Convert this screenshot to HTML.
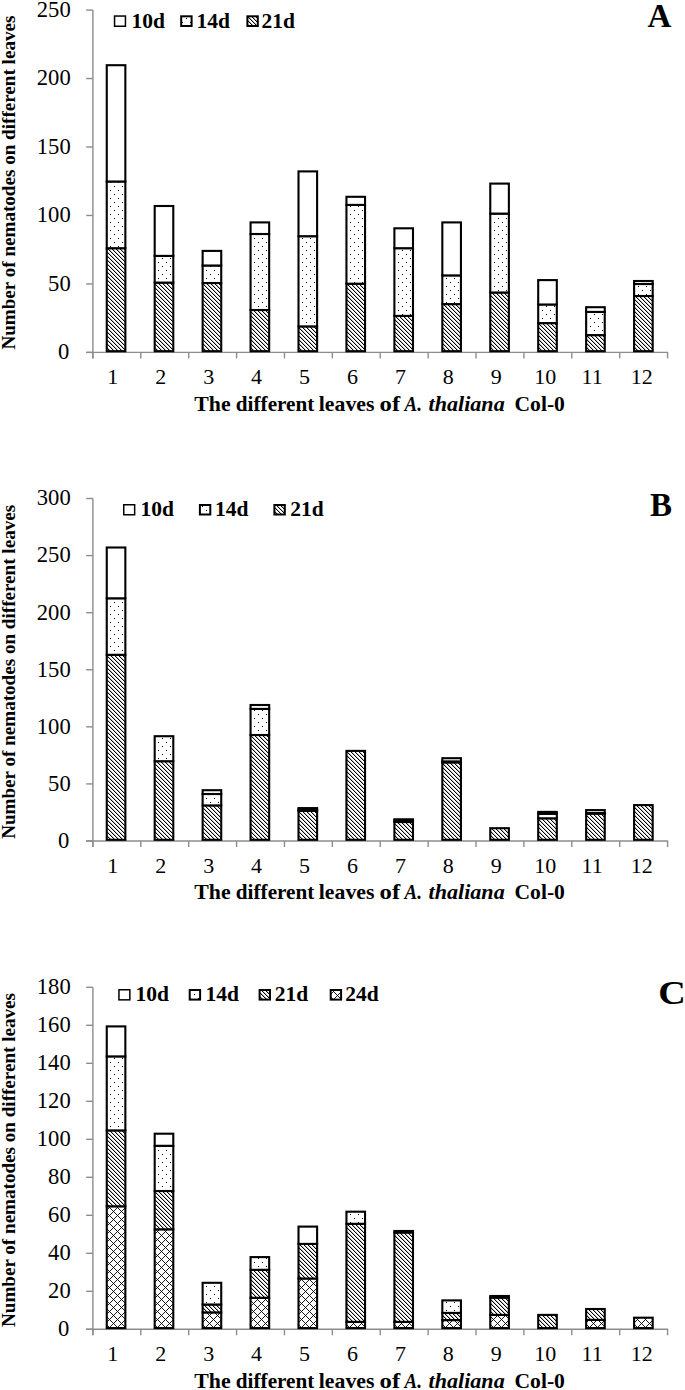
<!DOCTYPE html>
<html><head><meta charset="utf-8"><title>Nematodes on leaves</title>
<style>
html,body{margin:0;padding:0;background:#fff;}
body{width:685px;height:1390px;overflow:hidden;}
svg{display:block;}
text{font-family:"Liberation Serif",serif;fill:#000;}
.tk{font-size:22px;}
.yt{font-size:22.6px;}
.lg{font-size:21.5px;font-weight:bold;}
.ttl{font-size:21px;font-weight:bold;}
.it{font-style:italic;}
.yl{font-size:19px;font-weight:bold;}
.pl{font-size:33px;font-weight:bold;}
</style></head><body>
<svg width="685" height="1390" viewBox="0 0 685 1390">
<defs>
<pattern id="hatch" patternUnits="userSpaceOnUse" width="4" height="4">
<rect x="0" y="0" width="4" height="4" fill="#fff"/>
<rect x="3" y="0" width="1" height="1" fill="#000"/><rect x="0" y="0" width="1" height="1" fill="#c0c0c0"/><rect x="0" y="1" width="1" height="1" fill="#000"/><rect x="1" y="1" width="1" height="1" fill="#c0c0c0"/><rect x="1" y="2" width="1" height="1" fill="#000"/><rect x="2" y="2" width="1" height="1" fill="#c0c0c0"/><rect x="2" y="3" width="1" height="1" fill="#000"/><rect x="3" y="3" width="1" height="1" fill="#c0c0c0"/>
</pattern>
<pattern id="dots" patternUnits="userSpaceOnUse" width="8" height="8">
<rect x="0" y="0" width="8" height="8" fill="#fff"/>
<rect x="2" y="2" width="1" height="1" fill="#000"/>
<rect x="6" y="6" width="1" height="1" fill="#000"/>
</pattern>
<pattern id="cross" patternUnits="userSpaceOnUse" width="8" height="8">
<rect x="0" y="0" width="8" height="8" fill="#fff"/>
<path d="M-2 0L8 10M4 -2L10 4M-1 6L6 -1M3 10L10 3" stroke="#000" stroke-width="0.9"/>
</pattern>
</defs>
<line x1="92.9" y1="10.1" x2="92.9" y2="358.4" stroke="#8c8c8c" stroke-width="1.4"/>
<line x1="86.2" y1="352.4" x2="668.08" y2="352.4" stroke="#8c8c8c" stroke-width="1.4"/>
<line x1="86.2" y1="352.40" x2="92.9" y2="352.40" stroke="#8c8c8c" stroke-width="1.4"/>
<text x="69.2" y="359.30" class="tk yt" text-anchor="end">0</text>
<line x1="86.2" y1="283.94" x2="92.9" y2="283.94" stroke="#8c8c8c" stroke-width="1.4"/>
<text x="70.7" y="290.84" class="tk yt" text-anchor="end">50</text>
<line x1="86.2" y1="215.48" x2="92.9" y2="215.48" stroke="#8c8c8c" stroke-width="1.4"/>
<text x="70.7" y="222.38" class="tk yt" text-anchor="end">100</text>
<line x1="86.2" y1="147.02" x2="92.9" y2="147.02" stroke="#8c8c8c" stroke-width="1.4"/>
<text x="70.7" y="153.92" class="tk yt" text-anchor="end">150</text>
<line x1="86.2" y1="78.56" x2="92.9" y2="78.56" stroke="#8c8c8c" stroke-width="1.4"/>
<text x="70.7" y="85.46" class="tk yt" text-anchor="end">200</text>
<line x1="86.2" y1="10.10" x2="92.9" y2="10.10" stroke="#8c8c8c" stroke-width="1.4"/>
<text x="70.7" y="17.00" class="tk yt" text-anchor="end">250</text>
<line x1="92.90" y1="352.4" x2="92.90" y2="358.4" stroke="#8c8c8c" stroke-width="1.4"/>
<line x1="140.79" y1="352.4" x2="140.79" y2="358.4" stroke="#8c8c8c" stroke-width="1.4"/>
<line x1="188.68" y1="352.4" x2="188.68" y2="358.4" stroke="#8c8c8c" stroke-width="1.4"/>
<line x1="236.57" y1="352.4" x2="236.57" y2="358.4" stroke="#8c8c8c" stroke-width="1.4"/>
<line x1="284.46" y1="352.4" x2="284.46" y2="358.4" stroke="#8c8c8c" stroke-width="1.4"/>
<line x1="332.35" y1="352.4" x2="332.35" y2="358.4" stroke="#8c8c8c" stroke-width="1.4"/>
<line x1="380.24" y1="352.4" x2="380.24" y2="358.4" stroke="#8c8c8c" stroke-width="1.4"/>
<line x1="428.13" y1="352.4" x2="428.13" y2="358.4" stroke="#8c8c8c" stroke-width="1.4"/>
<line x1="476.02" y1="352.4" x2="476.02" y2="358.4" stroke="#8c8c8c" stroke-width="1.4"/>
<line x1="523.91" y1="352.4" x2="523.91" y2="358.4" stroke="#8c8c8c" stroke-width="1.4"/>
<line x1="571.80" y1="352.4" x2="571.80" y2="358.4" stroke="#8c8c8c" stroke-width="1.4"/>
<line x1="619.69" y1="352.4" x2="619.69" y2="358.4" stroke="#8c8c8c" stroke-width="1.4"/>
<line x1="667.58" y1="352.4" x2="667.58" y2="358.4" stroke="#8c8c8c" stroke-width="1.4"/>
<text x="112.75" y="384.10" class="tk" text-anchor="middle">1</text>
<text x="160.69" y="384.10" class="tk" text-anchor="middle">2</text>
<text x="208.63" y="384.10" class="tk" text-anchor="middle">3</text>
<text x="256.57" y="384.10" class="tk" text-anchor="middle">4</text>
<text x="304.51" y="384.10" class="tk" text-anchor="middle">5</text>
<text x="352.45" y="384.10" class="tk" text-anchor="middle">6</text>
<text x="400.39" y="384.10" class="tk" text-anchor="middle">7</text>
<text x="448.33" y="384.10" class="tk" text-anchor="middle">8</text>
<text x="496.27" y="384.10" class="tk" text-anchor="middle">9</text>
<text x="545.21" y="384.10" class="tk" text-anchor="middle">10</text>
<text x="592.15" y="384.10" class="tk" text-anchor="middle">11</text>
<text x="641.69" y="384.10" class="tk" text-anchor="middle">12</text>
<rect x="106.75" y="248.20" width="18.60" height="103.00" fill="url(#hatch)" stroke="#000" stroke-width="2.1"/>
<rect x="106.75" y="181.50" width="18.60" height="66.70" fill="url(#dots)" stroke="#000" stroke-width="2.1"/>
<rect x="106.75" y="65.20" width="18.60" height="116.30" fill="#fff" stroke="#000" stroke-width="2.1"/>
<rect x="154.69" y="282.60" width="18.60" height="68.60" fill="url(#hatch)" stroke="#000" stroke-width="2.1"/>
<rect x="154.69" y="255.90" width="18.60" height="26.70" fill="url(#dots)" stroke="#000" stroke-width="2.1"/>
<rect x="154.69" y="206.00" width="18.60" height="49.90" fill="#fff" stroke="#000" stroke-width="2.1"/>
<rect x="202.63" y="283.00" width="18.60" height="68.20" fill="url(#hatch)" stroke="#000" stroke-width="2.1"/>
<rect x="202.63" y="265.50" width="18.60" height="17.50" fill="url(#dots)" stroke="#000" stroke-width="2.1"/>
<rect x="202.63" y="250.90" width="18.60" height="14.60" fill="#fff" stroke="#000" stroke-width="2.1"/>
<rect x="250.57" y="310.00" width="18.60" height="41.20" fill="url(#hatch)" stroke="#000" stroke-width="2.1"/>
<rect x="250.57" y="234.00" width="18.60" height="76.00" fill="url(#dots)" stroke="#000" stroke-width="2.1"/>
<rect x="250.57" y="222.40" width="18.60" height="11.60" fill="#fff" stroke="#000" stroke-width="2.1"/>
<rect x="298.51" y="326.40" width="18.60" height="24.80" fill="url(#hatch)" stroke="#000" stroke-width="2.1"/>
<rect x="298.51" y="236.20" width="18.60" height="90.20" fill="url(#dots)" stroke="#000" stroke-width="2.1"/>
<rect x="298.51" y="171.40" width="18.60" height="64.80" fill="#fff" stroke="#000" stroke-width="2.1"/>
<rect x="346.45" y="283.70" width="18.60" height="67.50" fill="url(#hatch)" stroke="#000" stroke-width="2.1"/>
<rect x="346.45" y="204.90" width="18.60" height="78.80" fill="url(#dots)" stroke="#000" stroke-width="2.1"/>
<rect x="346.45" y="196.80" width="18.60" height="8.10" fill="#fff" stroke="#000" stroke-width="2.1"/>
<rect x="394.39" y="315.90" width="18.60" height="35.30" fill="url(#hatch)" stroke="#000" stroke-width="2.1"/>
<rect x="394.39" y="248.20" width="18.60" height="67.70" fill="url(#dots)" stroke="#000" stroke-width="2.1"/>
<rect x="394.39" y="228.30" width="18.60" height="19.90" fill="#fff" stroke="#000" stroke-width="2.1"/>
<rect x="442.33" y="304.10" width="18.60" height="47.10" fill="url(#hatch)" stroke="#000" stroke-width="2.1"/>
<rect x="442.33" y="275.40" width="18.60" height="28.70" fill="url(#dots)" stroke="#000" stroke-width="2.1"/>
<rect x="442.33" y="222.40" width="18.60" height="53.00" fill="#fff" stroke="#000" stroke-width="2.1"/>
<rect x="490.27" y="292.50" width="18.60" height="58.70" fill="url(#hatch)" stroke="#000" stroke-width="2.1"/>
<rect x="490.27" y="213.60" width="18.60" height="78.90" fill="url(#dots)" stroke="#000" stroke-width="2.1"/>
<rect x="490.27" y="183.60" width="18.60" height="30.00" fill="#fff" stroke="#000" stroke-width="2.1"/>
<rect x="538.21" y="323.10" width="18.60" height="28.10" fill="url(#hatch)" stroke="#000" stroke-width="2.1"/>
<rect x="538.21" y="304.50" width="18.60" height="18.60" fill="url(#dots)" stroke="#000" stroke-width="2.1"/>
<rect x="538.21" y="280.10" width="18.60" height="24.40" fill="#fff" stroke="#000" stroke-width="2.1"/>
<rect x="586.15" y="335.10" width="18.60" height="16.10" fill="url(#hatch)" stroke="#000" stroke-width="2.1"/>
<rect x="586.15" y="311.90" width="18.60" height="23.20" fill="url(#dots)" stroke="#000" stroke-width="2.1"/>
<rect x="586.15" y="307.20" width="18.60" height="4.70" fill="#fff" stroke="#000" stroke-width="2.1"/>
<rect x="634.09" y="296.00" width="18.60" height="55.20" fill="url(#hatch)" stroke="#000" stroke-width="2.1"/>
<rect x="634.09" y="284.00" width="18.60" height="12.00" fill="url(#dots)" stroke="#000" stroke-width="2.1"/>
<rect x="634.09" y="281.00" width="18.60" height="3.00" fill="#fff" stroke="#000" stroke-width="2.1"/>
<text y="410.50" class="ttl"><tspan x="194.2" textLength="36.4" lengthAdjust="spacingAndGlyphs">The</tspan><tspan x="235.8" textLength="78.6" lengthAdjust="spacingAndGlyphs">different</tspan><tspan x="318.8" textLength="55.6" lengthAdjust="spacingAndGlyphs">leaves</tspan><tspan x="379.6" textLength="20.6" lengthAdjust="spacingAndGlyphs">of</tspan><tspan x="404.6" class="it" textLength="17.4" lengthAdjust="spacingAndGlyphs">A.</tspan><tspan x="428.5" class="it" textLength="76.2" lengthAdjust="spacingAndGlyphs">thaliana</tspan><tspan x="514.5" textLength="50.4" lengthAdjust="spacingAndGlyphs">Col-0</tspan></text>
<text transform="translate(14.8 182.60) rotate(-90)" class="yl" text-anchor="middle" textLength="334" lengthAdjust="spacingAndGlyphs">Number of nematodes on different leaves</text>
<rect x="114.55" y="16.05" width="10.90" height="10.20" fill="#fff" stroke="#000" stroke-width="1.5"/>
<text x="131.50" y="27.60" class="lg">10d</text>
<rect x="181.20" y="16.30" width="10.40" height="9.70" fill="url(#dots)" stroke="#000" stroke-width="2.0"/>
<text x="196.50" y="27.60" class="lg">14d</text>
<rect x="247.40" y="16.30" width="10.40" height="9.70" fill="url(#hatch)" stroke="#000" stroke-width="2.0"/>
<text x="261.50" y="27.60" class="lg">21d</text>
<text x="647.5" y="26.6" class="pl">A</text>
<line x1="92.9" y1="498.5" x2="92.9" y2="847.0" stroke="#8c8c8c" stroke-width="1.4"/>
<line x1="86.2" y1="841.0" x2="668.08" y2="841.0" stroke="#8c8c8c" stroke-width="1.4"/>
<line x1="86.2" y1="841.00" x2="92.9" y2="841.00" stroke="#8c8c8c" stroke-width="1.4"/>
<text x="69.2" y="847.90" class="tk yt" text-anchor="end">0</text>
<line x1="86.2" y1="783.92" x2="92.9" y2="783.92" stroke="#8c8c8c" stroke-width="1.4"/>
<text x="70.7" y="790.82" class="tk yt" text-anchor="end">50</text>
<line x1="86.2" y1="726.83" x2="92.9" y2="726.83" stroke="#8c8c8c" stroke-width="1.4"/>
<text x="70.7" y="733.73" class="tk yt" text-anchor="end">100</text>
<line x1="86.2" y1="669.75" x2="92.9" y2="669.75" stroke="#8c8c8c" stroke-width="1.4"/>
<text x="70.7" y="676.65" class="tk yt" text-anchor="end">150</text>
<line x1="86.2" y1="612.67" x2="92.9" y2="612.67" stroke="#8c8c8c" stroke-width="1.4"/>
<text x="70.7" y="619.57" class="tk yt" text-anchor="end">200</text>
<line x1="86.2" y1="555.58" x2="92.9" y2="555.58" stroke="#8c8c8c" stroke-width="1.4"/>
<text x="70.7" y="562.48" class="tk yt" text-anchor="end">250</text>
<line x1="86.2" y1="498.50" x2="92.9" y2="498.50" stroke="#8c8c8c" stroke-width="1.4"/>
<text x="70.7" y="505.40" class="tk yt" text-anchor="end">300</text>
<line x1="92.90" y1="841.0" x2="92.90" y2="847.0" stroke="#8c8c8c" stroke-width="1.4"/>
<line x1="140.79" y1="841.0" x2="140.79" y2="847.0" stroke="#8c8c8c" stroke-width="1.4"/>
<line x1="188.68" y1="841.0" x2="188.68" y2="847.0" stroke="#8c8c8c" stroke-width="1.4"/>
<line x1="236.57" y1="841.0" x2="236.57" y2="847.0" stroke="#8c8c8c" stroke-width="1.4"/>
<line x1="284.46" y1="841.0" x2="284.46" y2="847.0" stroke="#8c8c8c" stroke-width="1.4"/>
<line x1="332.35" y1="841.0" x2="332.35" y2="847.0" stroke="#8c8c8c" stroke-width="1.4"/>
<line x1="380.24" y1="841.0" x2="380.24" y2="847.0" stroke="#8c8c8c" stroke-width="1.4"/>
<line x1="428.13" y1="841.0" x2="428.13" y2="847.0" stroke="#8c8c8c" stroke-width="1.4"/>
<line x1="476.02" y1="841.0" x2="476.02" y2="847.0" stroke="#8c8c8c" stroke-width="1.4"/>
<line x1="523.91" y1="841.0" x2="523.91" y2="847.0" stroke="#8c8c8c" stroke-width="1.4"/>
<line x1="571.80" y1="841.0" x2="571.80" y2="847.0" stroke="#8c8c8c" stroke-width="1.4"/>
<line x1="619.69" y1="841.0" x2="619.69" y2="847.0" stroke="#8c8c8c" stroke-width="1.4"/>
<line x1="667.58" y1="841.0" x2="667.58" y2="847.0" stroke="#8c8c8c" stroke-width="1.4"/>
<text x="112.75" y="872.70" class="tk" text-anchor="middle">1</text>
<text x="160.69" y="872.70" class="tk" text-anchor="middle">2</text>
<text x="208.63" y="872.70" class="tk" text-anchor="middle">3</text>
<text x="256.57" y="872.70" class="tk" text-anchor="middle">4</text>
<text x="304.51" y="872.70" class="tk" text-anchor="middle">5</text>
<text x="352.45" y="872.70" class="tk" text-anchor="middle">6</text>
<text x="400.39" y="872.70" class="tk" text-anchor="middle">7</text>
<text x="448.33" y="872.70" class="tk" text-anchor="middle">8</text>
<text x="496.27" y="872.70" class="tk" text-anchor="middle">9</text>
<text x="545.21" y="872.70" class="tk" text-anchor="middle">10</text>
<text x="592.15" y="872.70" class="tk" text-anchor="middle">11</text>
<text x="641.69" y="872.70" class="tk" text-anchor="middle">12</text>
<rect x="106.75" y="654.80" width="18.60" height="185.00" fill="url(#hatch)" stroke="#000" stroke-width="2.1"/>
<rect x="106.75" y="598.30" width="18.60" height="56.50" fill="url(#dots)" stroke="#000" stroke-width="2.1"/>
<rect x="106.75" y="547.50" width="18.60" height="50.80" fill="#fff" stroke="#000" stroke-width="2.1"/>
<rect x="154.69" y="761.20" width="18.60" height="78.60" fill="url(#hatch)" stroke="#000" stroke-width="2.1"/>
<rect x="154.69" y="736.20" width="18.60" height="25.00" fill="url(#dots)" stroke="#000" stroke-width="2.1"/>
<rect x="202.63" y="805.40" width="18.60" height="34.40" fill="url(#hatch)" stroke="#000" stroke-width="2.1"/>
<rect x="202.63" y="794.00" width="18.60" height="11.40" fill="url(#dots)" stroke="#000" stroke-width="2.1"/>
<rect x="202.63" y="790.20" width="18.60" height="3.80" fill="#fff" stroke="#000" stroke-width="2.1"/>
<rect x="250.57" y="735.00" width="18.60" height="104.80" fill="url(#hatch)" stroke="#000" stroke-width="2.1"/>
<rect x="250.57" y="708.90" width="18.60" height="26.10" fill="url(#dots)" stroke="#000" stroke-width="2.1"/>
<rect x="250.57" y="705.00" width="18.60" height="3.90" fill="#fff" stroke="#000" stroke-width="2.1"/>
<rect x="298.51" y="810.90" width="18.60" height="28.90" fill="url(#hatch)" stroke="#000" stroke-width="2.1"/>
<rect x="298.51" y="809.50" width="18.60" height="1.40" fill="url(#dots)" stroke="#000" stroke-width="2.1"/>
<rect x="298.51" y="808.10" width="18.60" height="1.40" fill="#fff" stroke="#000" stroke-width="2.1"/>
<rect x="346.45" y="750.90" width="18.60" height="88.90" fill="url(#hatch)" stroke="#000" stroke-width="2.1"/>
<rect x="394.39" y="822.00" width="18.60" height="17.80" fill="url(#hatch)" stroke="#000" stroke-width="2.1"/>
<rect x="394.39" y="820.60" width="18.60" height="1.40" fill="url(#dots)" stroke="#000" stroke-width="2.1"/>
<rect x="394.39" y="819.30" width="18.60" height="1.30" fill="#fff" stroke="#000" stroke-width="2.1"/>
<rect x="442.33" y="762.40" width="18.60" height="77.40" fill="url(#hatch)" stroke="#000" stroke-width="2.1"/>
<rect x="442.33" y="761.40" width="18.60" height="1.00" fill="url(#dots)" stroke="#000" stroke-width="2.1"/>
<rect x="442.33" y="758.20" width="18.60" height="3.20" fill="#fff" stroke="#000" stroke-width="2.1"/>
<rect x="490.27" y="828.20" width="18.60" height="11.60" fill="url(#hatch)" stroke="#000" stroke-width="2.1"/>
<rect x="538.21" y="818.30" width="18.60" height="21.50" fill="url(#hatch)" stroke="#000" stroke-width="2.1"/>
<rect x="538.21" y="813.80" width="18.60" height="4.50" fill="url(#dots)" stroke="#000" stroke-width="2.1"/>
<rect x="538.21" y="811.90" width="18.60" height="1.90" fill="#fff" stroke="#000" stroke-width="2.1"/>
<rect x="586.15" y="813.60" width="18.60" height="26.20" fill="url(#hatch)" stroke="#000" stroke-width="2.1"/>
<rect x="586.15" y="813.00" width="18.60" height="0.60" fill="url(#dots)" stroke="#000" stroke-width="2.1"/>
<rect x="586.15" y="810.10" width="18.60" height="2.90" fill="#fff" stroke="#000" stroke-width="2.1"/>
<rect x="634.09" y="805.10" width="18.60" height="34.70" fill="url(#hatch)" stroke="#000" stroke-width="2.1"/>
<text y="898.95" class="ttl"><tspan x="194.2" textLength="36.4" lengthAdjust="spacingAndGlyphs">The</tspan><tspan x="235.8" textLength="78.6" lengthAdjust="spacingAndGlyphs">different</tspan><tspan x="318.8" textLength="55.6" lengthAdjust="spacingAndGlyphs">leaves</tspan><tspan x="379.6" textLength="20.6" lengthAdjust="spacingAndGlyphs">of</tspan><tspan x="404.6" class="it" textLength="17.4" lengthAdjust="spacingAndGlyphs">A.</tspan><tspan x="428.5" class="it" textLength="76.2" lengthAdjust="spacingAndGlyphs">thaliana</tspan><tspan x="514.5" textLength="50.4" lengthAdjust="spacingAndGlyphs">Col-0</tspan></text>
<text transform="translate(14.8 671.85) rotate(-90)" class="yl" text-anchor="middle" textLength="334" lengthAdjust="spacingAndGlyphs">Number of nematodes on different leaves</text>
<rect x="123.75" y="504.75" width="10.90" height="10.00" fill="#fff" stroke="#000" stroke-width="1.5"/>
<text x="140.60" y="516.30" class="lg">10d</text>
<rect x="199.90" y="505.00" width="10.40" height="9.50" fill="url(#dots)" stroke="#000" stroke-width="2.0"/>
<text x="215.00" y="516.30" class="lg">14d</text>
<rect x="274.40" y="505.00" width="10.40" height="9.50" fill="url(#hatch)" stroke="#000" stroke-width="2.0"/>
<text x="290.30" y="516.30" class="lg">21d</text>
<text x="650" y="515.6" class="pl">B</text>
<line x1="92.9" y1="987.3" x2="92.9" y2="1335.3" stroke="#8c8c8c" stroke-width="1.4"/>
<line x1="86.2" y1="1329.3" x2="668.08" y2="1329.3" stroke="#8c8c8c" stroke-width="1.4"/>
<line x1="86.2" y1="1329.30" x2="92.9" y2="1329.30" stroke="#8c8c8c" stroke-width="1.4"/>
<text x="69.2" y="1336.20" class="tk yt" text-anchor="end">0</text>
<line x1="86.2" y1="1291.30" x2="92.9" y2="1291.30" stroke="#8c8c8c" stroke-width="1.4"/>
<text x="70.7" y="1298.20" class="tk yt" text-anchor="end">20</text>
<line x1="86.2" y1="1253.30" x2="92.9" y2="1253.30" stroke="#8c8c8c" stroke-width="1.4"/>
<text x="70.7" y="1260.20" class="tk yt" text-anchor="end">40</text>
<line x1="86.2" y1="1215.30" x2="92.9" y2="1215.30" stroke="#8c8c8c" stroke-width="1.4"/>
<text x="70.7" y="1222.20" class="tk yt" text-anchor="end">60</text>
<line x1="86.2" y1="1177.30" x2="92.9" y2="1177.30" stroke="#8c8c8c" stroke-width="1.4"/>
<text x="70.7" y="1184.20" class="tk yt" text-anchor="end">80</text>
<line x1="86.2" y1="1139.30" x2="92.9" y2="1139.30" stroke="#8c8c8c" stroke-width="1.4"/>
<text x="70.7" y="1146.20" class="tk yt" text-anchor="end">100</text>
<line x1="86.2" y1="1101.30" x2="92.9" y2="1101.30" stroke="#8c8c8c" stroke-width="1.4"/>
<text x="70.7" y="1108.20" class="tk yt" text-anchor="end">120</text>
<line x1="86.2" y1="1063.30" x2="92.9" y2="1063.30" stroke="#8c8c8c" stroke-width="1.4"/>
<text x="70.7" y="1070.20" class="tk yt" text-anchor="end">140</text>
<line x1="86.2" y1="1025.30" x2="92.9" y2="1025.30" stroke="#8c8c8c" stroke-width="1.4"/>
<text x="70.7" y="1032.20" class="tk yt" text-anchor="end">160</text>
<line x1="86.2" y1="987.30" x2="92.9" y2="987.30" stroke="#8c8c8c" stroke-width="1.4"/>
<text x="70.7" y="994.20" class="tk yt" text-anchor="end">180</text>
<line x1="92.90" y1="1329.3" x2="92.90" y2="1335.3" stroke="#8c8c8c" stroke-width="1.4"/>
<line x1="140.79" y1="1329.3" x2="140.79" y2="1335.3" stroke="#8c8c8c" stroke-width="1.4"/>
<line x1="188.68" y1="1329.3" x2="188.68" y2="1335.3" stroke="#8c8c8c" stroke-width="1.4"/>
<line x1="236.57" y1="1329.3" x2="236.57" y2="1335.3" stroke="#8c8c8c" stroke-width="1.4"/>
<line x1="284.46" y1="1329.3" x2="284.46" y2="1335.3" stroke="#8c8c8c" stroke-width="1.4"/>
<line x1="332.35" y1="1329.3" x2="332.35" y2="1335.3" stroke="#8c8c8c" stroke-width="1.4"/>
<line x1="380.24" y1="1329.3" x2="380.24" y2="1335.3" stroke="#8c8c8c" stroke-width="1.4"/>
<line x1="428.13" y1="1329.3" x2="428.13" y2="1335.3" stroke="#8c8c8c" stroke-width="1.4"/>
<line x1="476.02" y1="1329.3" x2="476.02" y2="1335.3" stroke="#8c8c8c" stroke-width="1.4"/>
<line x1="523.91" y1="1329.3" x2="523.91" y2="1335.3" stroke="#8c8c8c" stroke-width="1.4"/>
<line x1="571.80" y1="1329.3" x2="571.80" y2="1335.3" stroke="#8c8c8c" stroke-width="1.4"/>
<line x1="619.69" y1="1329.3" x2="619.69" y2="1335.3" stroke="#8c8c8c" stroke-width="1.4"/>
<line x1="667.58" y1="1329.3" x2="667.58" y2="1335.3" stroke="#8c8c8c" stroke-width="1.4"/>
<text x="112.75" y="1361.00" class="tk" text-anchor="middle">1</text>
<text x="160.69" y="1361.00" class="tk" text-anchor="middle">2</text>
<text x="208.63" y="1361.00" class="tk" text-anchor="middle">3</text>
<text x="256.57" y="1361.00" class="tk" text-anchor="middle">4</text>
<text x="304.51" y="1361.00" class="tk" text-anchor="middle">5</text>
<text x="352.45" y="1361.00" class="tk" text-anchor="middle">6</text>
<text x="400.39" y="1361.00" class="tk" text-anchor="middle">7</text>
<text x="448.33" y="1361.00" class="tk" text-anchor="middle">8</text>
<text x="496.27" y="1361.00" class="tk" text-anchor="middle">9</text>
<text x="545.21" y="1361.00" class="tk" text-anchor="middle">10</text>
<text x="592.15" y="1361.00" class="tk" text-anchor="middle">11</text>
<text x="641.69" y="1361.00" class="tk" text-anchor="middle">12</text>
<rect x="106.75" y="1206.30" width="18.60" height="121.80" fill="url(#cross)" stroke="#000" stroke-width="2.1"/>
<rect x="106.75" y="1130.40" width="18.60" height="75.90" fill="url(#hatch)" stroke="#000" stroke-width="2.1"/>
<rect x="106.75" y="1056.40" width="18.60" height="74.00" fill="url(#dots)" stroke="#000" stroke-width="2.1"/>
<rect x="106.75" y="1026.40" width="18.60" height="30.00" fill="#fff" stroke="#000" stroke-width="2.1"/>
<rect x="154.69" y="1229.30" width="18.60" height="98.80" fill="url(#cross)" stroke="#000" stroke-width="2.1"/>
<rect x="154.69" y="1191.00" width="18.60" height="38.30" fill="url(#hatch)" stroke="#000" stroke-width="2.1"/>
<rect x="154.69" y="1145.80" width="18.60" height="45.20" fill="url(#dots)" stroke="#000" stroke-width="2.1"/>
<rect x="154.69" y="1133.70" width="18.60" height="12.10" fill="#fff" stroke="#000" stroke-width="2.1"/>
<rect x="202.63" y="1312.40" width="18.60" height="15.70" fill="url(#cross)" stroke="#000" stroke-width="2.1"/>
<rect x="202.63" y="1304.50" width="18.60" height="7.90" fill="url(#hatch)" stroke="#000" stroke-width="2.1"/>
<rect x="202.63" y="1282.80" width="18.60" height="21.70" fill="url(#dots)" stroke="#000" stroke-width="2.1"/>
<rect x="250.57" y="1297.80" width="18.60" height="30.30" fill="url(#cross)" stroke="#000" stroke-width="2.1"/>
<rect x="250.57" y="1269.80" width="18.60" height="28.00" fill="url(#hatch)" stroke="#000" stroke-width="2.1"/>
<rect x="250.57" y="1257.10" width="18.60" height="12.70" fill="url(#dots)" stroke="#000" stroke-width="2.1"/>
<rect x="298.51" y="1278.50" width="18.60" height="49.60" fill="url(#cross)" stroke="#000" stroke-width="2.1"/>
<rect x="298.51" y="1243.90" width="18.60" height="34.60" fill="url(#hatch)" stroke="#000" stroke-width="2.1"/>
<rect x="298.51" y="1226.60" width="18.60" height="17.30" fill="#fff" stroke="#000" stroke-width="2.1"/>
<rect x="346.45" y="1321.90" width="18.60" height="6.20" fill="url(#cross)" stroke="#000" stroke-width="2.1"/>
<rect x="346.45" y="1223.80" width="18.60" height="98.10" fill="url(#hatch)" stroke="#000" stroke-width="2.1"/>
<rect x="346.45" y="1211.70" width="18.60" height="12.10" fill="url(#dots)" stroke="#000" stroke-width="2.1"/>
<rect x="394.39" y="1321.90" width="18.60" height="6.20" fill="url(#cross)" stroke="#000" stroke-width="2.1"/>
<rect x="394.39" y="1232.50" width="18.60" height="89.40" fill="url(#hatch)" stroke="#000" stroke-width="2.1"/>
<rect x="394.39" y="1231.00" width="18.60" height="1.50" fill="#fff" stroke="#000" stroke-width="2.1"/>
<rect x="442.33" y="1320.10" width="18.60" height="8.00" fill="url(#cross)" stroke="#000" stroke-width="2.1"/>
<rect x="442.33" y="1312.90" width="18.60" height="7.20" fill="url(#hatch)" stroke="#000" stroke-width="2.1"/>
<rect x="442.33" y="1300.40" width="18.60" height="12.50" fill="url(#dots)" stroke="#000" stroke-width="2.1"/>
<rect x="490.27" y="1314.90" width="18.60" height="13.20" fill="url(#cross)" stroke="#000" stroke-width="2.1"/>
<rect x="490.27" y="1297.60" width="18.60" height="17.30" fill="url(#hatch)" stroke="#000" stroke-width="2.1"/>
<rect x="490.27" y="1296.00" width="18.60" height="1.60" fill="#fff" stroke="#000" stroke-width="2.1"/>
<rect x="538.21" y="1314.90" width="18.60" height="13.20" fill="url(#hatch)" stroke="#000" stroke-width="2.1"/>
<rect x="586.15" y="1319.90" width="18.60" height="8.20" fill="url(#cross)" stroke="#000" stroke-width="2.1"/>
<rect x="586.15" y="1309.00" width="18.60" height="10.90" fill="url(#hatch)" stroke="#000" stroke-width="2.1"/>
<rect x="634.09" y="1317.70" width="18.60" height="10.40" fill="url(#cross)" stroke="#000" stroke-width="2.1"/>
<text y="1388.00" class="ttl"><tspan x="194.2" textLength="36.4" lengthAdjust="spacingAndGlyphs">The</tspan><tspan x="235.8" textLength="78.6" lengthAdjust="spacingAndGlyphs">different</tspan><tspan x="318.8" textLength="55.6" lengthAdjust="spacingAndGlyphs">leaves</tspan><tspan x="379.6" textLength="20.6" lengthAdjust="spacingAndGlyphs">of</tspan><tspan x="404.6" class="it" textLength="17.4" lengthAdjust="spacingAndGlyphs">A.</tspan><tspan x="428.5" class="it" textLength="76.2" lengthAdjust="spacingAndGlyphs">thaliana</tspan><tspan x="514.5" textLength="50.4" lengthAdjust="spacingAndGlyphs">Col-0</tspan></text>
<text transform="translate(14.8 1160.00) rotate(-90)" class="yl" text-anchor="middle" textLength="334" lengthAdjust="spacingAndGlyphs">Number of nematodes on different leaves</text>
<rect x="118.95" y="989.75" width="10.90" height="10.10" fill="#fff" stroke="#000" stroke-width="1.5"/>
<text x="135.50" y="1001.30" class="lg">10d</text>
<rect x="189.70" y="990.00" width="10.40" height="9.60" fill="url(#dots)" stroke="#000" stroke-width="2.0"/>
<text x="205.40" y="1001.30" class="lg">14d</text>
<rect x="259.60" y="990.00" width="10.40" height="9.60" fill="url(#hatch)" stroke="#000" stroke-width="2.0"/>
<text x="274.80" y="1001.30" class="lg">21d</text>
<rect x="330.70" y="990.00" width="10.40" height="9.60" fill="url(#cross)" stroke="#000" stroke-width="2.0"/>
<text x="345.30" y="1001.30" class="lg">24d</text>
<text x="658.3" y="1003.9" class="pl" textLength="27.6" lengthAdjust="spacingAndGlyphs">C</text>
</svg>
</body></html>
